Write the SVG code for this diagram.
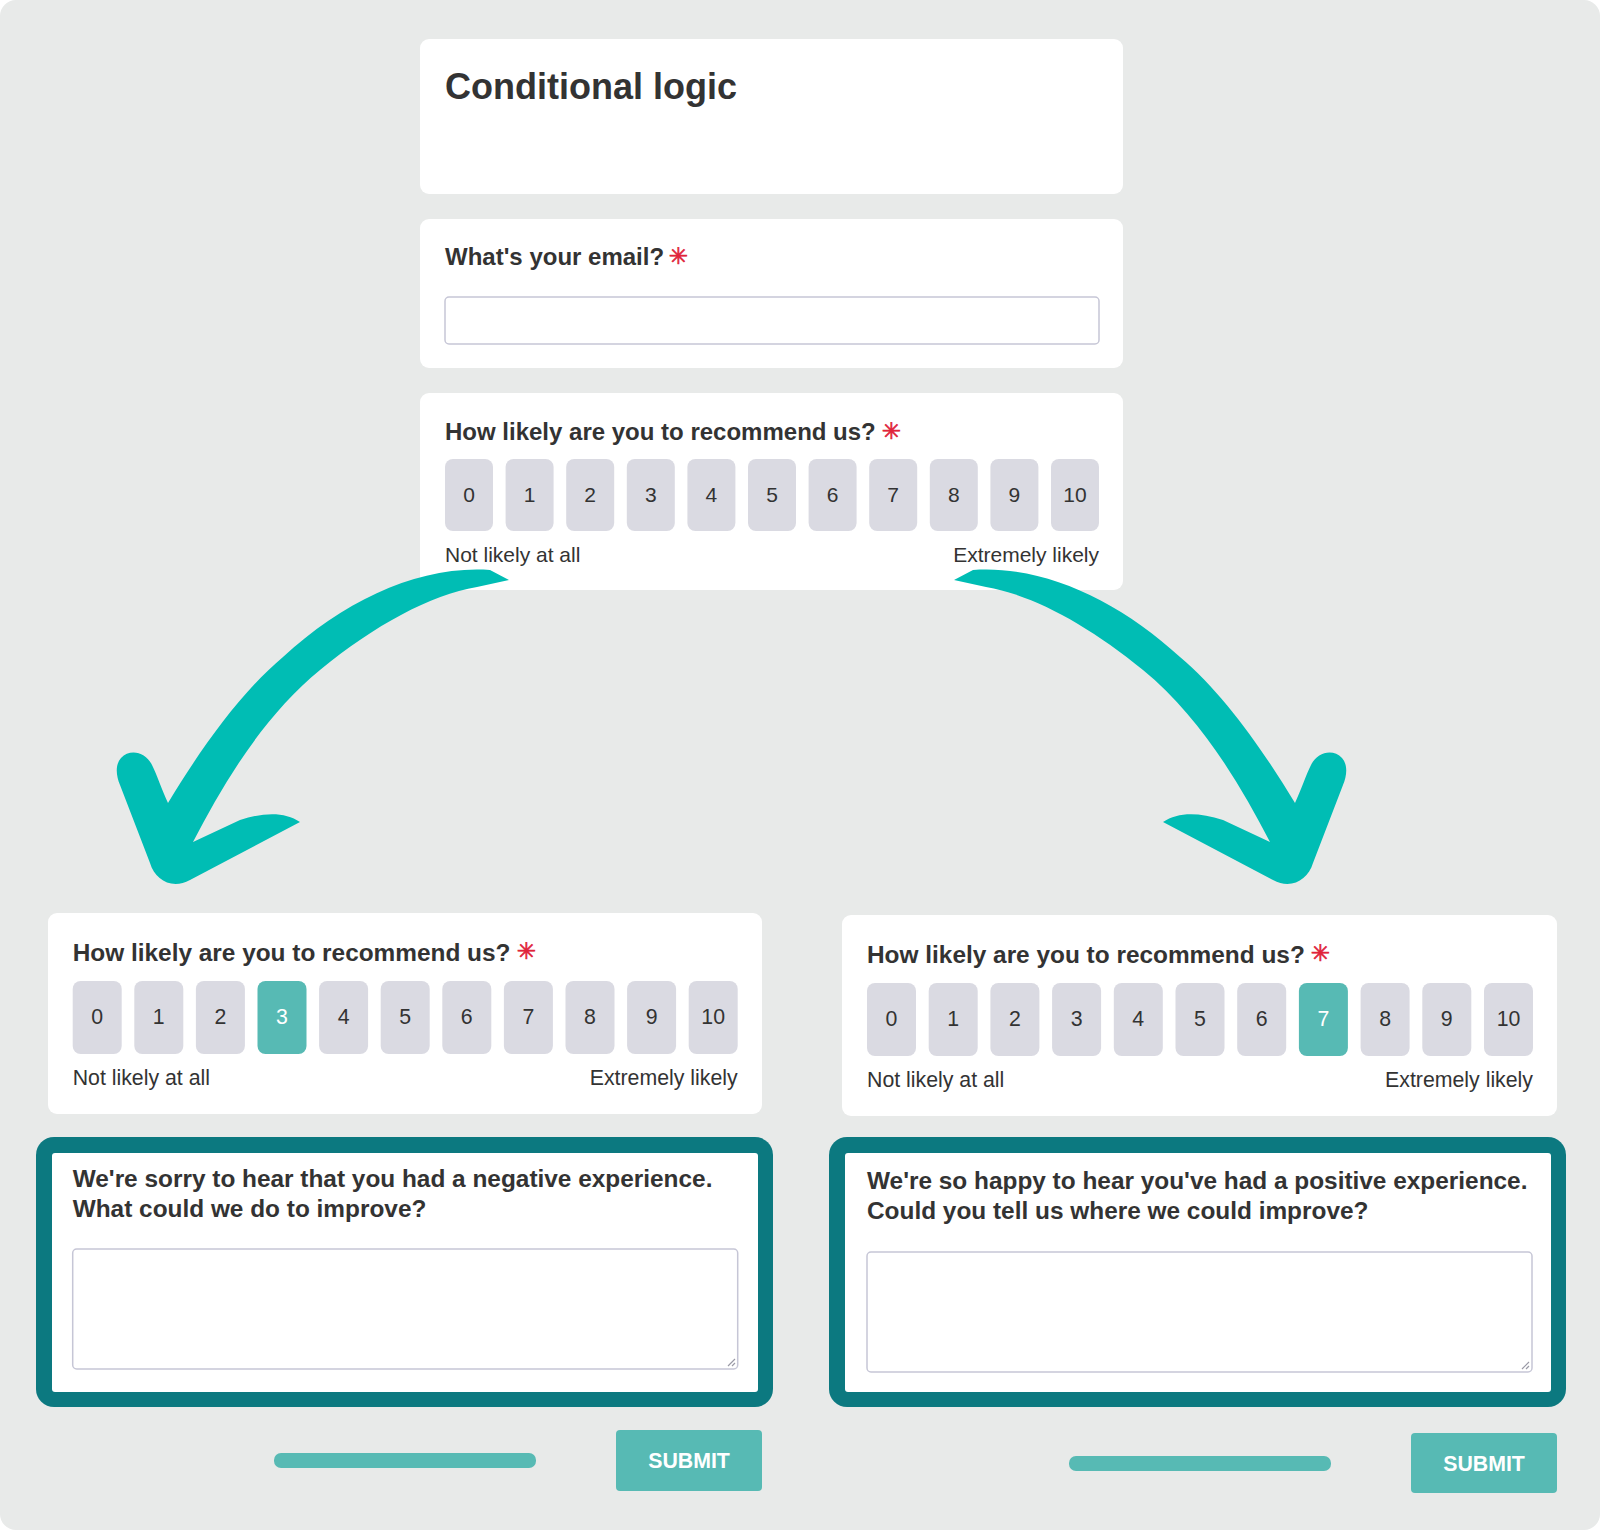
<svg xmlns="http://www.w3.org/2000/svg" width="1600" height="1530" viewBox="0 0 1600 1530">
<style>
.card{fill:#ffffff}
.t{font-family:"Liberation Sans",Arial,sans-serif;fill:#333333}
.b{font-weight:bold}
.btn{fill:#dadae2}
.sel{fill:#57bab4}
.num{font-family:"Liberation Sans",Arial,sans-serif;fill:#333333;text-anchor:middle}
.numsel{fill:#ffffff}
.ast{font-family:"DejaVu Sans",sans-serif;fill:#e0243a;stroke:#e0243a;stroke-width:0.7;text-anchor:middle}
.inp{fill:#ffffff;stroke:#c6c6d6;stroke-width:1.5}
.frame{fill:#0c7980}
.bar{fill:#57bab4}
.sub{font-family:"Liberation Sans",Arial,sans-serif;font-weight:bold;fill:#ffffff;text-anchor:middle}
.arrow{fill:#00bdb4}
.handle{stroke:#9a9aa6;stroke-width:1.2;fill:none}
</style>
<rect x="0" y="0" width="1600" height="1530" fill="#ffffff"/>
<rect x="0" y="0" width="1600" height="1530" rx="16" fill="#e8eae9"/>

<g id="title-card">
<rect class="card" x="420" y="39" width="703" height="155" rx="9"/>
<text class="t b" x="445" y="99" font-size="36">Conditional logic</text>
</g>

<g id="email-card">
<rect class="card" x="420" y="219" width="703" height="149" rx="9"/>
<text class="t b" x="445" y="265" font-size="24">What's your email?</text>
<text class="ast" x="678.5" y="263.5" font-size="23">✳</text>
<rect class="inp" x="445" y="297" width="654" height="47" rx="4"/>
</g>

<g id="rating-top">
<rect class="card" x="420" y="393" width="703" height="197" rx="9"/>
<text class="t b" x="445" y="440" font-size="24">How likely are you to recommend us?</text>
<text class="ast" x="891.5" y="438.5" font-size="23">✳</text>
<rect class="btn" x="445" y="459" width="48" height="72" rx="8"/>
<rect class="btn" x="505.6" y="459" width="48" height="72" rx="8"/>
<rect class="btn" x="566.2" y="459" width="48" height="72" rx="8"/>
<rect class="btn" x="626.8" y="459" width="48" height="72" rx="8"/>
<rect class="btn" x="687.4" y="459" width="48" height="72" rx="8"/>
<rect class="btn" x="748" y="459" width="48" height="72" rx="8"/>
<rect class="btn" x="808.6" y="459" width="48" height="72" rx="8"/>
<rect class="btn" x="869.2" y="459" width="48" height="72" rx="8"/>
<rect class="btn" x="929.8" y="459" width="48" height="72" rx="8"/>
<rect class="btn" x="990.4" y="459" width="48" height="72" rx="8"/>
<rect class="btn" x="1051" y="459" width="48" height="72" rx="8"/>
<g font-size="21">
<text class="num" x="469" y="502">0</text>
<text class="num" x="529.6" y="502">1</text>
<text class="num" x="590.2" y="502">2</text>
<text class="num" x="650.8" y="502">3</text>
<text class="num" x="711.4" y="502">4</text>
<text class="num" x="772" y="502">5</text>
<text class="num" x="832.6" y="502">6</text>
<text class="num" x="893.2" y="502">7</text>
<text class="num" x="953.8" y="502">8</text>
<text class="num" x="1014.4" y="502">9</text>
<text class="num" x="1075" y="502">10</text>
</g>
<text class="t" x="445" y="562" font-size="21">Not likely at all</text>
<text class="t" x="1099" y="562" font-size="21" text-anchor="end">Extremely likely</text>
</g>

<g id="connectors">
<path id="arrow-left" class="arrow" d="M509,580 L490,570 C420,565 345,600 283,657 C240,693 200,750 168,803 C162,790 157,775 152,765 C146,752 130,748 121,758 C115,765 116,775 120,785 L150,863 C155,880 172,890 190,880 L300,822 C285,812 265,812 240,820 L193,842 C225,780 265,715 320,670 C375,625 430,595 477,587 Z"/>
<path id="arrow-right" class="arrow" transform="matrix(-1 0 0 1 1463 0)" d="M509,580 L490,570 C420,565 345,600 283,657 C240,693 200,750 168,803 C162,790 157,775 152,765 C146,752 130,748 121,758 C115,765 116,775 120,785 L150,863 C155,880 172,890 190,880 L300,822 C285,812 265,812 240,820 L193,842 C225,780 265,715 320,670 C375,625 430,595 477,587 Z"/>
</g>

<g id="rating-left">
<rect class="card" x="48" y="913" width="714" height="201" rx="9"/>
<text class="t b" x="72.7" y="961" font-size="24.4">How likely are you to recommend us?</text>
<text class="ast" x="526.5" y="958.5" font-size="23">✳</text>
<rect class="btn" x="72.7" y="981" width="49" height="73" rx="8"/>
<rect class="btn" x="134.3" y="981" width="49" height="73" rx="8"/>
<rect class="btn" x="195.9" y="981" width="49" height="73" rx="8"/>
<rect class="sel" x="257.5" y="981" width="49" height="73" rx="8"/>
<rect class="btn" x="319.1" y="981" width="49" height="73" rx="8"/>
<rect class="btn" x="380.7" y="981" width="49" height="73" rx="8"/>
<rect class="btn" x="442.3" y="981" width="49" height="73" rx="8"/>
<rect class="btn" x="503.9" y="981" width="49" height="73" rx="8"/>
<rect class="btn" x="565.5" y="981" width="49" height="73" rx="8"/>
<rect class="btn" x="627.1" y="981" width="49" height="73" rx="8"/>
<rect class="btn" x="688.7" y="981" width="49" height="73" rx="8"/>
<g font-size="21.3">
<text class="num" x="97.2" y="1024">0</text>
<text class="num" x="158.8" y="1024">1</text>
<text class="num" x="220.4" y="1024">2</text>
<text class="num numsel" x="282" y="1024">3</text>
<text class="num" x="343.6" y="1024">4</text>
<text class="num" x="405.2" y="1024">5</text>
<text class="num" x="466.8" y="1024">6</text>
<text class="num" x="528.4" y="1024">7</text>
<text class="num" x="590" y="1024">8</text>
<text class="num" x="651.6" y="1024">9</text>
<text class="num" x="713.2" y="1024">10</text>
</g>
<text class="t" x="72.7" y="1085" font-size="21.3">Not likely at all</text>
<text class="t" x="737.7" y="1085" font-size="21.3" text-anchor="end">Extremely likely</text>
</g>

<g id="feedback-left">
<rect class="frame" x="36" y="1137" width="737" height="270" rx="18"/>
<rect class="card" x="52" y="1153" width="706" height="239" rx="3"/>
<text class="t b" x="72.7" y="1187" font-size="24.4">We're sorry to hear that you had a negative experience.</text>
<text class="t b" x="72.7" y="1217" font-size="24.4">What could we do to improve?</text>
<rect class="inp" x="72.7" y="1249" width="665" height="120" rx="4"/>
<path class="handle" d="M728,1366 L735,1359 M732,1366 L735,1363"/>
</g>

<g id="submit-left">
<rect class="bar" x="274" y="1453" width="262" height="15" rx="7"/>
<rect class="sel" x="616" y="1430" width="146" height="61" rx="4"/>
<text class="sub" x="689" y="1468" font-size="21.3">SUBMIT</text>
</g>

<g id="rating-right">
<rect class="card" x="842" y="915" width="715" height="201" rx="9"/>
<text class="t b" x="867" y="963" font-size="24.4">How likely are you to recommend us?</text>
<text class="ast" x="1320.5" y="960.5" font-size="23">✳</text>
<rect class="btn" x="867" y="983" width="49" height="73" rx="8"/>
<rect class="btn" x="928.7" y="983" width="49" height="73" rx="8"/>
<rect class="btn" x="990.4" y="983" width="49" height="73" rx="8"/>
<rect class="btn" x="1052.1" y="983" width="49" height="73" rx="8"/>
<rect class="btn" x="1113.8" y="983" width="49" height="73" rx="8"/>
<rect class="btn" x="1175.5" y="983" width="49" height="73" rx="8"/>
<rect class="btn" x="1237.2" y="983" width="49" height="73" rx="8"/>
<rect class="sel" x="1298.9" y="983" width="49" height="73" rx="8"/>
<rect class="btn" x="1360.6" y="983" width="49" height="73" rx="8"/>
<rect class="btn" x="1422.3" y="983" width="49" height="73" rx="8"/>
<rect class="btn" x="1484" y="983" width="49" height="73" rx="8"/>
<g font-size="21.3">
<text class="num" x="891.5" y="1026">0</text>
<text class="num" x="953.2" y="1026">1</text>
<text class="num" x="1014.9" y="1026">2</text>
<text class="num" x="1076.6" y="1026">3</text>
<text class="num" x="1138.3" y="1026">4</text>
<text class="num" x="1200" y="1026">5</text>
<text class="num" x="1261.7" y="1026">6</text>
<text class="num numsel" x="1323.4" y="1026">7</text>
<text class="num" x="1385.1" y="1026">8</text>
<text class="num" x="1446.8" y="1026">9</text>
<text class="num" x="1508.5" y="1026">10</text>
</g>
<text class="t" x="867" y="1087" font-size="21.3">Not likely at all</text>
<text class="t" x="1533" y="1087" font-size="21.3" text-anchor="end">Extremely likely</text>
</g>

<g id="feedback-right">
<rect class="frame" x="829" y="1137" width="737" height="270" rx="18"/>
<rect class="card" x="845" y="1153" width="706" height="239" rx="3"/>
<text class="t b" x="867" y="1189" font-size="24.4">We're so happy to hear you've had a positive experience.</text>
<text class="t b" x="867" y="1219" font-size="24.4">Could you tell us where we could improve?</text>
<rect class="inp" x="867" y="1252" width="665" height="120" rx="4"/>
<path class="handle" d="M1522,1369 L1529,1362 M1526,1369 L1529,1366"/>
</g>

<g id="submit-right">
<rect class="bar" x="1069" y="1456" width="262" height="15" rx="7"/>
<rect class="sel" x="1411" y="1433" width="146" height="60" rx="4"/>
<text class="sub" x="1484" y="1471" font-size="21.3">SUBMIT</text>
</g>
</svg>
